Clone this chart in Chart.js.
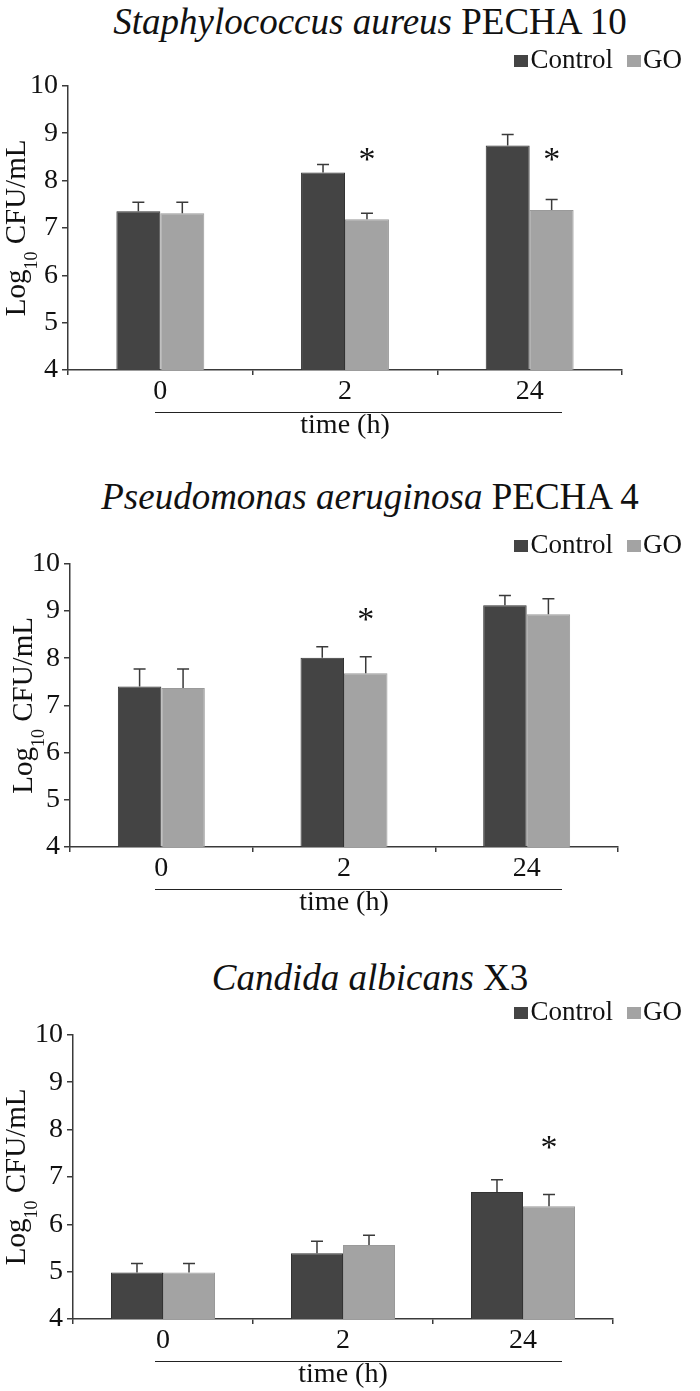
<!DOCTYPE html>
<html>
<head>
<meta charset="utf-8">
<script src="https://cdn.jsdelivr.net/npm/chart.js@4.4.1/dist/chart.umd.min.js"></script>
<style>
  body { margin: 0; background: #fff; width: 700px; height: 1391px; position: relative; overflow: hidden;
         font-family: "Liberation Serif", "Times New Roman", serif; color: #111; }
  .title { position: absolute; left: 0; width: 740px; text-align: center; font-size: 37px; line-height: 37px; white-space: nowrap; }
  .title i { font-style: italic; }
  .legend { position: absolute; right: 18px; font-size: 27px; line-height: 27px; white-space: nowrap; }
  .legend span.item { margin-left: 14px; }
  .legend span.box { display: inline-block; width: 14px; height: 12px; margin-right: 2px; vertical-align: 1px; }
  .wrap { position: absolute; left: 0; width: 700px; }
</style>
</head>
<body>
<script>
// 공통 데이터
const timeLabels = ['0', '2', '24'];
const seriesNames = ['Control', 'GO'];
const seriesColors = ['#444444', '#a3a3a3'];

// Staphylococcus aureus PECHA 10
const saControl = [7.35, 8.17, 8.74];
const saControlErr = [0.19, 0.17, 0.23];
const saGO = [7.31, 7.18, 7.38];
const saGOErr = [0.23, 0.13, 0.22];
const saStars = [null, 8.51, 8.51];

// Pseudomonas aeruginosa PECHA 4
const paControl = [7.40, 8.01, 9.12];
const paControlErr = [0.37, 0.23, 0.21];
const paGO = [7.37, 7.68, 8.93];
const paGOErr = [0.40, 0.35, 0.33];
const paStars = [null, 8.89, null];

// Candida albicans X3
const caControl = [4.98, 5.39, 6.68];
const caControlErr = [0.19, 0.25, 0.26];
const caGO = [4.98, 5.56, 6.38];
const caGOErr = [0.19, 0.21, 0.25];
const caStars = [null, null, 7.69];

// y축 범위
const yMin = 4;
const yMax = 10;
const yStep = 1;

const FONT = 'Liberation Serif';
const axisColor = '#3a3a3a';

// 패널 배치 (위치만)
const panels = [
  { species: 'Staphylococcus aureus', strain: 'PECHA 10', control: saControl, controlErr: saControlErr,
    go: saGO, goErr: saGOErr, stars: saStars,
    titleY: 21, legendY: 60, top: 85, bottom: 370, left: 68, right: 622, barFrac: 0.476, yTitleX: 25 },
  { species: 'Pseudomonas aeruginosa', strain: 'PECHA 4', control: paControl, controlErr: paControlErr,
    go: paGO, goErr: paGOErr, stars: paStars,
    titleY: 496, legendY: 545, top: 563, bottom: 847, left: 70, right: 618, barFrac: 0.476, yTitleX: 32 },
  { species: 'Candida albicans', strain: 'X3', control: caControl, controlErr: caControlErr,
    go: caGO, goErr: caGOErr, stars: caStars,
    titleY: 977, legendY: 1012, top: 1034, bottom: 1319, left: 73, right: 613, barFrac: 0.578, yTitleX: 25 }
];

const PAD_TOP = 20;
const X_AXIS_HEIGHT = 72;
const underline = { x0: 155, x1: 562, dy: 42 };

// 오차 막대와 별표
const errorBarPlugin = {
  id: 'errorBars',
  afterDatasetsDraw(chart) {
    const ctx = chart.ctx;
    const y = chart.scales.y;
    ctx.save();
    ctx.strokeStyle = axisColor;
    ctx.lineWidth = 1.5;
    chart.data.datasets.forEach((ds, i) => {
      const meta = chart.getDatasetMeta(i);
      meta.data.forEach((bar, j) => {
        const top = y.getPixelForValue(ds.data[j] + ds.errors[j]);
        ctx.beginPath();
        ctx.moveTo(bar.x, bar.y);
        ctx.lineTo(bar.x, top);
        ctx.moveTo(bar.x - 6, top);
        ctx.lineTo(bar.x + 6, top);
        ctx.stroke();
        if (ds.stars && ds.stars[j] != null) {
          ctx.fillStyle = '#111';
          ctx.font = '34px "' + FONT + '"';
          ctx.textAlign = 'center';
          ctx.textBaseline = 'middle';
          ctx.fillText('*', bar.x, y.getPixelForValue(ds.stars[j]) + 5);
        }
      });
    });
    ctx.restore();
  }
};

// y축 제목 (아래 첨자 포함)과 x축 밑줄
const axisDecorPlugin = {
  id: 'axisDecor',
  afterDraw(chart, args, opts) {
    const { ctx, chartArea } = chart;
    const cy = (chartArea.top + chartArea.bottom) / 2;
    const big = '29px "' + FONT + '"';
    const small = '18px "' + FONT + '"';
    ctx.save();
    ctx.fillStyle = '#111';
    ctx.translate(opts.x, cy);
    ctx.rotate(-Math.PI / 2);
    ctx.textBaseline = 'alphabetic';
    ctx.font = big;
    const w1 = ctx.measureText('Log').width;
    const w3 = ctx.measureText(' CFU/mL').width;
    ctx.font = small;
    const w2 = ctx.measureText('10').width;
    let x = -(w1 + w2 + w3) / 2;
    ctx.font = big; ctx.fillText('Log', x, 0); x += w1;
    ctx.font = small; ctx.fillText('10', x, 12); x += w2;
    ctx.font = big; ctx.fillText(' CFU/mL', x, 0);
    ctx.restore();

    // time (h) 위의 가로줄
    ctx.save();
    ctx.strokeStyle = '#222';
    ctx.lineWidth = 1.2;
    ctx.beginPath();
    const ly = chartArea.bottom + underline.dy + 0.5;
    ctx.moveTo(underline.x0, ly);
    ctx.lineTo(underline.x1, ly);
    ctx.stroke();
    ctx.restore();
  }
};

function makeLegend(chart, topY) {
  const div = document.createElement('div');
  div.className = 'legend';
  div.style.top = (topY - 14) + 'px';
  chart.data.datasets.forEach((ds, i) => {
    const item = document.createElement('span');
    item.className = 'item';
    if (i === 0) item.style.marginLeft = '0';
    item.innerHTML = '<span class="box" style="background:' + ds.backgroundColor + '"></span>' + ds.label;
    div.appendChild(item);
  });
  document.body.appendChild(div);
}

panels.forEach(p => {
  const title = document.createElement('div');
  title.className = 'title';
  title.style.top = (p.titleY - 18) + 'px';
  title.innerHTML = '<i>' + p.species + '</i> ' + p.strain;
  document.body.appendChild(title);

  const wrap = document.createElement('div');
  wrap.className = 'wrap';
  const h = (p.bottom - p.top) + PAD_TOP + X_AXIS_HEIGHT;
  wrap.style.top = (p.top - PAD_TOP) + 'px';
  wrap.style.height = h + 'px';
  const canvas = document.createElement('canvas');
  canvas.width = 700;
  canvas.height = h;
  wrap.appendChild(canvas);
  document.body.appendChild(wrap);

  const chart = new Chart(canvas.getContext('2d'), {
    type: 'bar',
    data: {
      labels: timeLabels,
      datasets: [
        { label: seriesNames[0], data: p.control, errors: p.controlErr, backgroundColor: seriesColors[0],
          borderColor: '#333', borderWidth: 1 },
        { label: seriesNames[1], data: p.go, errors: p.goErr, stars: p.stars, backgroundColor: seriesColors[1],
          borderColor: '#9a9a9a', borderWidth: 1 }
      ]
    },
    options: {
      responsive: false,
      animation: false,
      layout: { padding: { top: PAD_TOP, right: 700 - p.right, left: 0, bottom: 0 } },
      datasets: { bar: { categoryPercentage: p.barFrac, barPercentage: 1 } },
      plugins: {
        legend: { display: false },
        tooltip: { enabled: false },
        axisDecor: { x: p.yTitleX }
      },
      scales: {
        x: {
          grid: { drawOnChartArea: false, drawTicks: true, tickLength: 5, color: axisColor, lineWidth: 1.5, offset: true },
          border: { color: axisColor, width: 1.5 },
          ticks: { font: { family: FONT, size: 28 }, color: '#111', padding: 0 },
          title: { display: true, text: 'time (h)', font: { family: FONT, size: 28 }, color: '#111', padding: 0 },
          afterFit: s => { s.height = X_AXIS_HEIGHT; }
        },
        y: {
          min: yMin,
          max: yMax,
          ticks: { stepSize: yStep, font: { family: FONT, size: 28 }, color: '#111', padding: 4 },
          grid: { drawOnChartArea: false, drawTicks: true, tickLength: 6, color: axisColor, lineWidth: 1.5 },
          border: { color: axisColor, width: 1.5 },
          afterFit: s => { s.width = p.left; }
        }
      }
    },
    plugins: [errorBarPlugin, axisDecorPlugin]
  });

  makeLegend(chart, p.legendY);
});
</script>
</body>
</html>
